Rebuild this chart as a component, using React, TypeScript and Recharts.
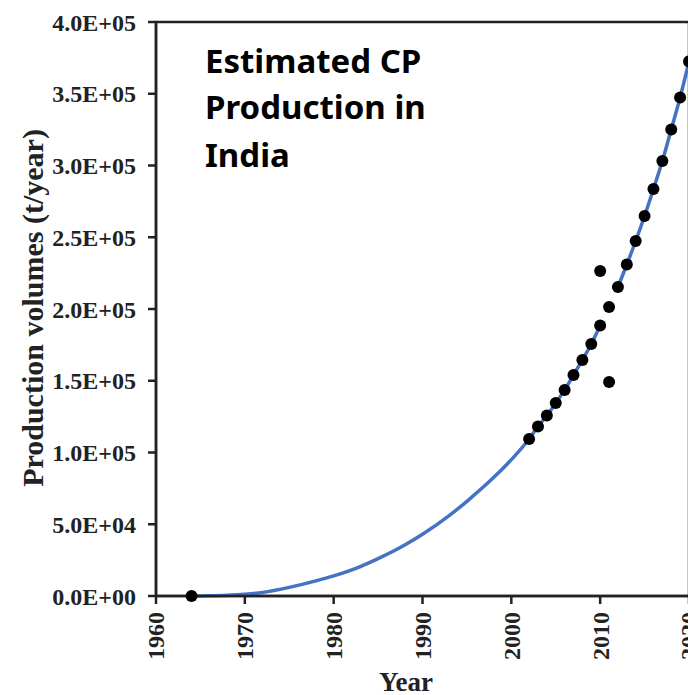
import React from 'react';
import {
  ComposedChart,
  Line,
  Scatter,
  XAxis,
  YAxis,
  ReferenceArea,
} from 'recharts';

// fitted curve (gap at 2011)
const fitYears = [1964, 1966, 1968, 1970, 1972, 1975, 1978, 1980, 1983, 1985, 1988, 1990, 1993, 1995, 1998, 2000,
  2002, 2003, 2004, 2005, 2006, 2007, 2008, 2009, 2010, 2011,
  2012, 2013, 2014, 2015, 2016, 2017, 2018, 2019, 2020];
const fitValues = [0, 150, 500, 1200, 2500, 6000, 10500, 14000, 20500, 26000, 35500, 43000, 56000, 66000, 82500, 95000,
  109400, 118100, 125800, 134500, 143600, 154000, 164500, 175600, 188500, null,
  215300, 231000, 247400, 264800, 283600, 303100, 325100, 347400, 372500];

// estimated production points
const dotYears = [1964, 2002, 2003, 2004, 2005, 2006, 2007, 2008, 2009, 2010, 2010, 2011, 2011,
  2012, 2013, 2014, 2015, 2016, 2017, 2018, 2019, 2020];
const dotValues = [0, 109400, 118100, 125800, 134500, 143600, 154000, 164500, 175600, 188500, 226500, 201400, 149100,
  215300, 231000, 247400, 264800, 283600, 303100, 325100, 347400, 372500];

const xTicks = [1960, 1970, 1980, 1990, 2000, 2010, 2020];
const yTicks = [0, 50000, 100000, 150000, 200000, 250000, 300000, 350000, 400000];

const fitRows = fitYears.map((year, i) => ({ year, fit: fitValues[i] }));
const dotRows = dotYears.map((year, i) => ({ year, prod: dotValues[i] }));

const SERIF = '"Liberation Serif", "Times New Roman", serif';
const INK = '#222';

const sciFormat = (v: number) =>
  v.toExponential(1).toUpperCase().replace(/E([+-])(\d+)$/, (_m, s, d) => 'E' + s + d.padStart(2, '0'));

const YearTick = (props: any) => {
  const { x, y, payload } = props;
  return (
    <text
      x={x}
      y={y}
      transform={`rotate(-90, ${x}, ${y})`}
      textAnchor="end"
      dy="0.35em"
      fontFamily={SERIF}
      fontSize={24}
      fontWeight="bold"
      fill={INK}
    >
      {payload.value}
    </text>
  );
};

const Dot = (props: any) => <circle cx={props.cx} cy={props.cy} r={6} fill="#000" />;

export default function App() {
  return (
    <div style={{ position: 'relative', width: 688, height: 687 }}>
      <ComposedChart
        width={688}
        height={687}
        data={fitRows}
        margin={{ top: 14, right: 7, bottom: 0, left: 0 }}
      >
        <XAxis
          type="number"
          dataKey="year"
          domain={[1960, 2020]}
          ticks={xTicks}
          interval={0}
          height={99}
          tickSize={8}
          tickMargin={8}
          tick={<YearTick />}
          axisLine={{ stroke: INK, strokeWidth: 2.5 }}
          tickLine={{ stroke: INK, strokeWidth: 2.5 }}
        />
        <YAxis
          type="number"
          domain={[0, 400000]}
          ticks={yTicks}
          interval={0}
          width={148}
          tickSize={8}
          tickMargin={12}
          tickFormatter={sciFormat}
          tick={{ fontFamily: SERIF, fontSize: 24, fontWeight: 'bold', fill: INK }}
          axisLine={{ stroke: INK, strokeWidth: 2.5 }}
          tickLine={{ stroke: INK, strokeWidth: 2.5 }}
        />
        <ReferenceArea
          x1={1960}
          x2={2020}
          y1={0}
          y2={400000}
          fill="none"
          stroke={INK}
          strokeWidth={2.5}
        />
        <Line
          dataKey="fit"
          type="monotone"
          stroke="#4472C4"
          strokeWidth={3.5}
          dot={false}
          connectNulls={false}
          isAnimationActive={false}
        />
        <Scatter data={dotRows} dataKey="prod" shape={<Dot />} isAnimationActive={false} />
      </ComposedChart>
      <svg
        width={688}
        height={687}
        style={{ position: 'absolute', left: 0, top: 0, pointerEvents: 'none' }}
      >
        <text
          x={35}
          y={300}
          transform="rotate(-90, 35, 300)"
          textAnchor="middle"
          fontFamily={SERIF}
          fontSize={30}
          fontWeight="bold"
          fill={INK}
        >
          Production volumes (t/year)
        </text>
        <text x={398} y={683} textAnchor="middle" fontFamily={SERIF} fontSize={27} fontWeight="bold" fill={INK}>
          Year
        </text>
        <g fontFamily='"Noto Sans", sans-serif' fontSize={33} fontWeight="bold" fill="#000">
          <text x={197} y={64.5}>Estimated CP</text>
          <text x={197} y={111}>Production in</text>
          <text x={197} y={158.5}>India</text>
        </g>
      </svg>
    </div>
  );
}
